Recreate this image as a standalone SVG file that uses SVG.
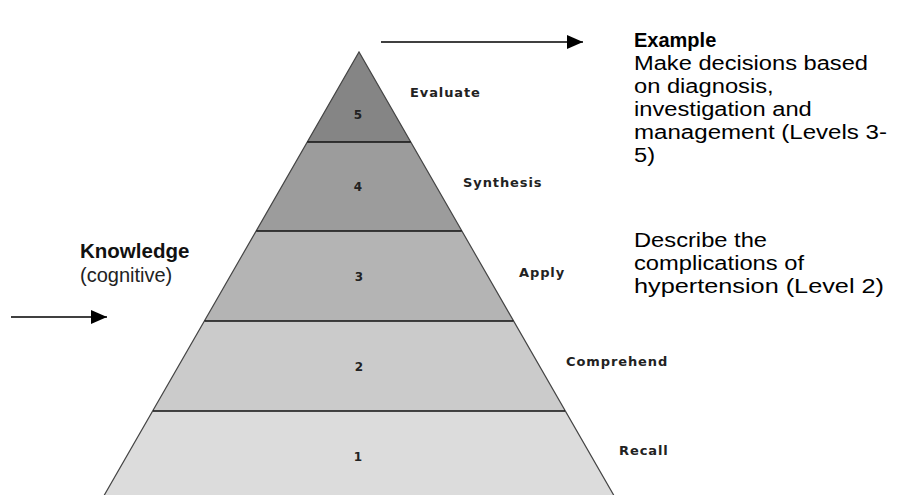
<svg xmlns="http://www.w3.org/2000/svg" width="903" height="495" viewBox="0 0 903 495">
<style>
.band{stroke:none}
.edge{fill:none;stroke:#444;stroke-width:1.2}
.sep{stroke:#111;stroke-width:1.5}
.num{font-family:"DejaVu Sans",sans-serif;font-weight:bold;font-size:12px;fill:#222;text-anchor:middle}
.lvl{font-family:"DejaVu Sans",sans-serif;font-weight:bold;font-size:13px;letter-spacing:0.9px;fill:#222}
.body{font-family:"Liberation Sans",Arial,sans-serif;font-size:20px;fill:#000}
.head{font-family:"Liberation Sans",Arial,sans-serif;font-size:20px;font-weight:bold;fill:#000}
.conn{stroke:#000;stroke-width:1.5;fill:none}
</style>
<defs>
<marker id="ah" viewBox="0 0 16 14" refX="16" refY="7" markerWidth="16" markerHeight="14" markerUnits="userSpaceOnUse" orient="auto">
<path d="M0,0 L16,7 L0,14 Z" fill="#000"/>
</marker>
</defs>
<rect width="903" height="495" fill="#fff"/>
<g id="level5">
<polygon class="band" points="359,52 410.7,142 307.3,142" fill="#858585"/>
<text class="num" x="358" y="119">5</text>
<text class="lvl" x="410" y="97">Evaluate</text>
</g>
<g id="level4">
<polygon class="band" points="307.3,142 410.7,142 461.7,231 256.3,231" fill="#9c9c9c"/>
<text class="num" x="358" y="191">4</text>
<text class="lvl" x="463" y="187">Synthesis</text>
</g>
<g id="level3">
<polygon class="band" points="256.3,231 461.7,231 513.4,321 204.6,321" fill="#b4b4b4"/>
<text class="num" x="359" y="281">3</text>
<text class="lvl" x="519" y="277">Apply</text>
</g>
<g id="level2">
<polygon class="band" points="204.6,321 513.4,321 565,411 153,411" fill="#cbcbcb"/>
<text class="num" x="359" y="371">2</text>
<text class="lvl" x="566" y="366">Comprehend</text>
</g>
<g id="level1">
<polygon class="band" points="153,411 565,411 616.5,500 101.5,500" fill="#dcdcdc"/>
<text class="num" x="358" y="461">1</text>
<text class="lvl" x="619" y="455">Recall</text>
</g>
<g id="outline">
<polyline class="edge" points="101.5,500 359,52 616.5,500"/>
<line class="sep" x1="307.3" y1="142" x2="410.7" y2="142"/>
<line class="sep" x1="256.3" y1="231" x2="461.7" y2="231"/>
<line class="sep" x1="204.6" y1="321" x2="513.4" y2="321"/>
<line class="sep" x1="153" y1="411" x2="565" y2="411"/>
</g>
<g id="knowledge">
<text x="80" y="258" font-family="Liberation Sans, Arial, sans-serif" font-weight="bold" font-size="20.5" fill="#111">Knowledge</text>
<text x="80" y="282" font-family="Liberation Sans, Arial, sans-serif" font-size="20" fill="#222">(cognitive)</text>
</g>
<g id="example">
<text class="head" x="634" y="47">Example</text>
<text class="body" x="634" y="70" textLength="234" lengthAdjust="spacingAndGlyphs">Make decisions based</text>
<text class="body" x="634" y="93" textLength="139.6" lengthAdjust="spacingAndGlyphs">on diagnosis,</text>
<text class="body" x="634" y="116" textLength="177.8" lengthAdjust="spacingAndGlyphs">investigation and</text>
<text class="body" x="634" y="139" textLength="253" lengthAdjust="spacingAndGlyphs">management (Levels 3-</text>
<text class="body" x="634" y="162" textLength="21" lengthAdjust="spacingAndGlyphs">5)</text>
<text class="body" x="634" y="247" textLength="133" lengthAdjust="spacingAndGlyphs">Describe the</text>
<text class="body" x="634" y="270" textLength="170" lengthAdjust="spacingAndGlyphs">complications of</text>
<text class="body" x="634" y="293" textLength="250" lengthAdjust="spacingAndGlyphs">hypertension (Level 2)</text>
</g>
<g id="connectors">
<line class="conn" x1="381" y1="42" x2="583" y2="42" marker-end="url(#ah)"/>
<line class="conn" x1="11" y1="317" x2="107" y2="317" marker-end="url(#ah)"/>
</g>
</svg>
